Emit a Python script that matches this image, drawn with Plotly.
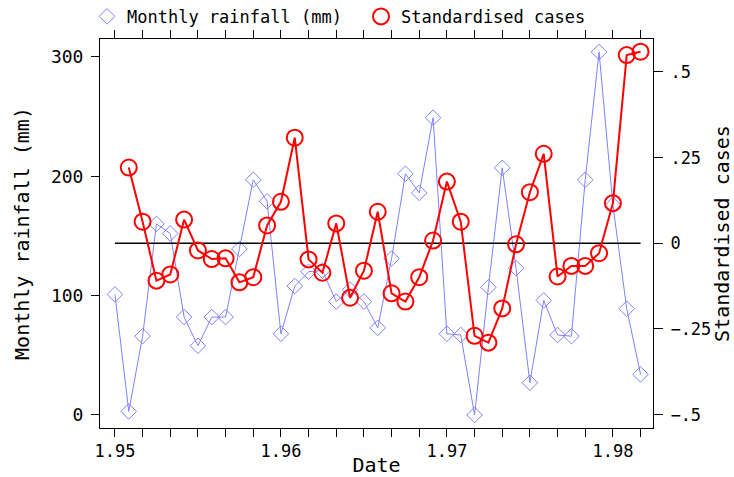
import plotly.graph_objects as go

# Month index (0 = 1.95 tick, 12 per labelled unit)
rain_x = list(range(0, 39))
rainfall = [101, 3, 66, 160, 152, 82, 58, 82, 82, 139, 197, 179,
            68, 108, 120, 121, 95, 105, 95, 73, 131, 202, 186, 249,
            68, 67, 0, 107, 207, 123, 27, 96, 67, 66, 197, 304,
            176, 89, 34]

cases_x = list(range(1, 39))
cases = [0.221, 0.063, -0.109, -0.091, 0.069, -0.021, -0.046, -0.044, -0.114, -0.099,
         0.052, 0.121, 0.308, -0.047, -0.086, 0.058, -0.159, -0.080, 0.092, -0.146,
         -0.170, -0.099, 0.008, 0.180, 0.063, -0.270, -0.290, -0.190, -0.003, 0.149,
         0.261, -0.097, -0.066, -0.066, -0.029, 0.117, 0.549, 0.559]

ref_x = [0, 38]
ref_y = [0, 0]

x_tickvals = [0, 12, 24, 36]
x_ticktext = ["1.95", "1.96", "1.97", "1.98"]
y1_tickvals = [0, 100, 200, 300]
y2_tickvals = [-0.5, -0.25, 0, 0.25, 0.5]
y2_ticktext = ["\u2212.5", "\u2212.25", "0", ".25", ".5"]

BLUE = "#8080ff"
RED = "#ff0000"
FONT = "DejaVu Sans Mono"

fig = go.Figure()
fig.add_trace(go.Scatter(x=rain_x, y=rainfall, mode="lines+markers", yaxis="y",
                         line=dict(color=BLUE, width=1),
                         marker=dict(symbol="diamond-open", size=12, color=BLUE,
                                     line=dict(width=1, color=BLUE)),
                         showlegend=False))
fig.add_trace(go.Scatter(x=ref_x, y=ref_y, mode="lines", yaxis="y2",
                         line=dict(color="black", width=1.5), showlegend=False))
fig.add_trace(go.Scatter(x=cases_x, y=cases, mode="lines+markers", yaxis="y2",
                         line=dict(color=RED, width=2),
                         marker=dict(symbol="circle-open", size=16, color=RED,
                                     line=dict(width=2, color=RED)),
                         showlegend=False))
# legend entries (marker only)
fig.add_trace(go.Scatter(x=[None], y=[None], mode="markers", name="Monthly rainfall (mm)",
                         marker=dict(symbol="diamond-open", size=12, color=BLUE,
                                     line=dict(width=1, color=BLUE))))
fig.add_trace(go.Scatter(x=[None], y=[None], mode="markers", name="Standardised cases",
                         yaxis="y2",
                         marker=dict(symbol="circle-open", size=16, color=RED,
                                     line=dict(width=2, color=RED))))

fig.update_layout(
    width=734, height=477,
    margin=dict(l=100, r=81, t=39, b=49, autoexpand=False),
    paper_bgcolor="white", plot_bgcolor="white",
    font=dict(family=FONT, size=17, color="black"),
    showlegend=True,
    legend=dict(orientation="h", x=-0.0235, xanchor="left", y=1.057, yanchor="middle",
                bgcolor="rgba(0,0,0,0)", borderwidth=0, font=dict(size=17),
                itemwidth=30, entrywidth=229, entrywidthmode="pixels",
                traceorder="normal"),
    xaxis=dict(range=[-1.08, 38.9], tickvals=x_tickvals, ticktext=x_ticktext,
               ticks="outside", ticklen=8, tickwidth=1, tickcolor="black",
               minor=dict(dtick=2, tick0=0, ticks="outside", ticklen=8, tickwidth=1,
                          tickcolor="black", showgrid=False),
               showline=True, linecolor="black", linewidth=1, mirror="ticks",
               showgrid=False, zeroline=False, automargin=False,
               title=dict(text="Date", standoff=4)),
    yaxis=dict(range=[-10.9, 314.9], tickvals=y1_tickvals,
               ticks="outside", ticklen=8, tickwidth=1, tickcolor="black",
               showline=True, linecolor="black", linewidth=1, tickfont=dict(size=18),
               showgrid=False, zeroline=False, ticklabelstandoff=4, automargin=False,
               title=dict(text="Monthly rainfall (mm)", standoff=15)),
    yaxis2=dict(range=[-0.539, 0.596], tickvals=y2_tickvals, ticktext=y2_ticktext,
                overlaying="y", side="right",
                ticks="outside", ticklen=9, tickwidth=1, tickcolor="black",
                showline=True, linecolor="black", linewidth=1,
                showgrid=False, zeroline=False, ticklabelstandoff=4, automargin=False,
                title=dict(text="Standardised cases", standoff=15)),
)

fig.write_html("out.html")
